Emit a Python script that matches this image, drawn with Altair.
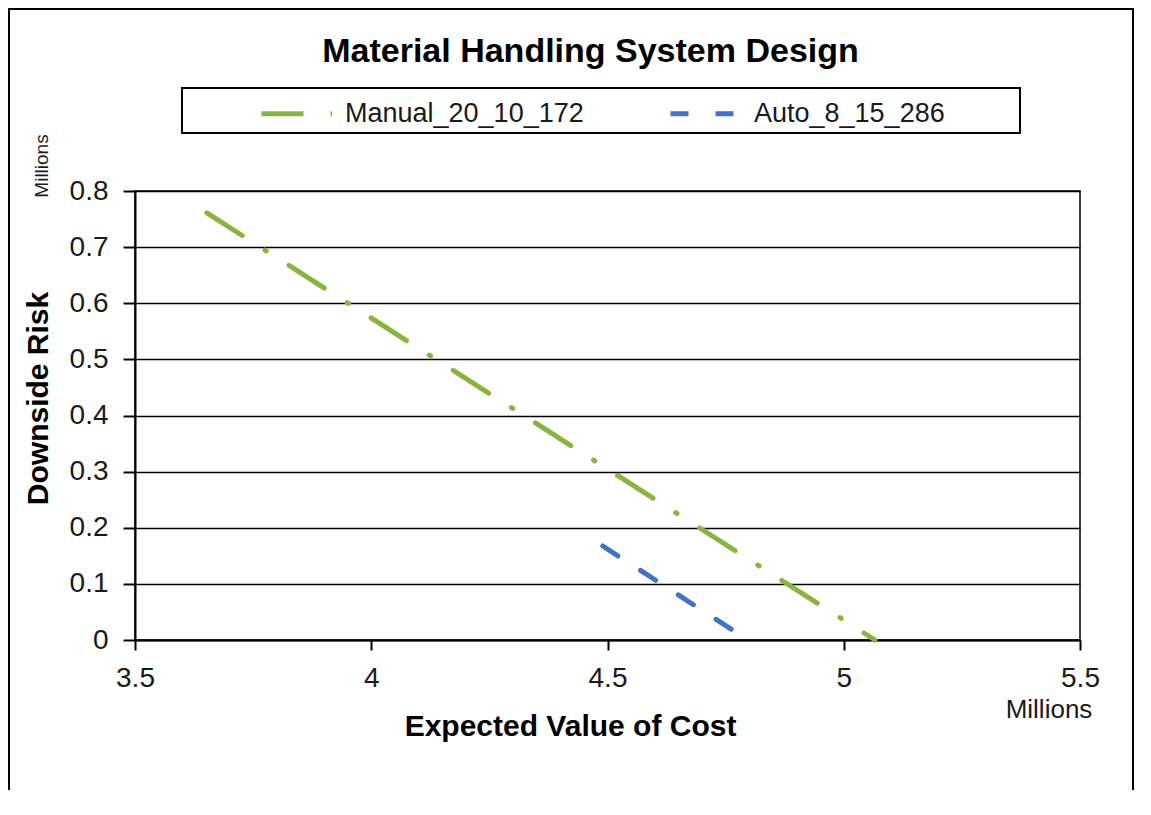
import altair as alt
import pandas as pd

# ---- data ----
series_names = ["Manual_20_10_172", "Auto_8_15_286"]
manual_cost = [3.652, 5.066]
manual_risk = [0.761, 0.0]
auto_cost = [4.490, 4.774]
auto_risk = [0.1675, 0.0125]

x_ticks = [3.5, 4, 4.5, 5, 5.5]
y_ticks = [0, 0.1, 0.2, 0.3, 0.4, 0.5, 0.6, 0.7, 0.8]

colors = ["#8AB440", "#4472C4"]
dashes = [[42, 27, 1.5, 27], [18, 27]]

FONT = "Liberation Sans"

rows = []
for c, r in zip(manual_cost, manual_risk):
    rows.append({"series": series_names[0], "cost": c, "risk": r})
for c, r in zip(auto_cost, auto_risk):
    rows.append({"series": series_names[1], "cost": c, "risk": r})
df = pd.DataFrame(rows)
one = pd.DataFrame({"k": [0]})

legend = alt.Legend(
    title=None,
    orient="none",
    legendX=124,
    legendY=-120,
    direction="horizontal",
    symbolType="stroke",
    symbolSize=6400,
    symbolStrokeWidth=5,
    labelFont=FONT,
    labelFontSize=27,
    labelColor="#1a1a1a",
    labelLimit=400,
    labelOffset=1,
    columnPadding=76,
    padding=0,
)

lines = alt.Chart(df).mark_line(strokeWidth=5, strokeCap="round").encode(
    x=alt.X(
        "cost:Q",
        scale=alt.Scale(domain=[3.5, 5.5], nice=False, zero=False),
        axis=alt.Axis(
            values=x_ticks, format="~g", grid=False,
            title="Expected Value of Cost",
            titleX=435, titleY=95, titleAlign="center", titleBaseline="alphabetic",
            tickSize=10, labelPadding=14, labelFlush=False,
        ),
    ),
    y=alt.Y(
        "risk:Q",
        scale=alt.Scale(domain=[0, 0.8], nice=False),
        axis=alt.Axis(
            values=y_ticks, format="~g", grid=True,
            title="Downside Risk",
            titleAngle=270, titleX=-88, titleY=207,
            titleAlign="center", titleBaseline="alphabetic",
            tickSize=12, labelPadding=15, labelFlush=False,
        ),
    ),
    color=alt.Color("series:N", scale=alt.Scale(domain=series_names, range=colors), legend=legend),
    strokeDash=alt.StrokeDash("series:N", scale=alt.Scale(domain=series_names, range=dashes), legend=legend),
)

frame = alt.Chart(one).mark_rect(fillOpacity=0, stroke="black", strokeWidth=2).encode(
    x=alt.value(-126), x2=alt.value(998), y=alt.value(-182), y2=alt.value(700)
)
legend_box = alt.Chart(one).mark_rect(fill="white", stroke="black", strokeWidth=2).encode(
    x=alt.value(47), x2=alt.value(885), y=alt.value(-103), y2=alt.value(-58)
)
y_units = alt.Chart(one).mark_text(
    text="Millions", font=FONT, fontSize=19, angle=270, align="center",
    baseline="alphabetic", color="#1a1a1a"
).encode(x=alt.value(-87), y=alt.value(-25))
x_units = alt.Chart(one).mark_text(
    text="Millions", font=FONT, fontSize=26, align="center",
    baseline="alphabetic", color="#1a1a1a"
).encode(x=alt.value(914), y=alt.value(527))

chart = alt.layer(frame, legend_box, lines, y_units, x_units).properties(
    width=945,
    height=449,
    autosize=alt.AutoSizeParams(type="none"),
    padding={"left": 127, "top": 183, "right": 55, "bottom": 150},
    title=alt.Title(
        "Material Handling System Design",
        font=FONT, fontSize=34, fontWeight="bold", color="black",
        anchor="middle", frame="group", offset=0, baseline="alphabetic",
        dx=-17, dy=88,
    ),
).configure(font=FONT).configure_view(
    stroke="black", strokeWidth=1.5
).configure_axis(
    domainColor="black", domainWidth=2,
    tickColor="black", tickWidth=2,
    gridColor="black", gridWidth=1.5,
    labelFont=FONT, labelFontSize=28, labelColor="#1a1a1a",
    titleFont=FONT, titleFontSize=30, titleFontWeight="bold", titleColor="black",
)

chart.save("out.html", embed_options={"renderer": "svg", "actions": False})
